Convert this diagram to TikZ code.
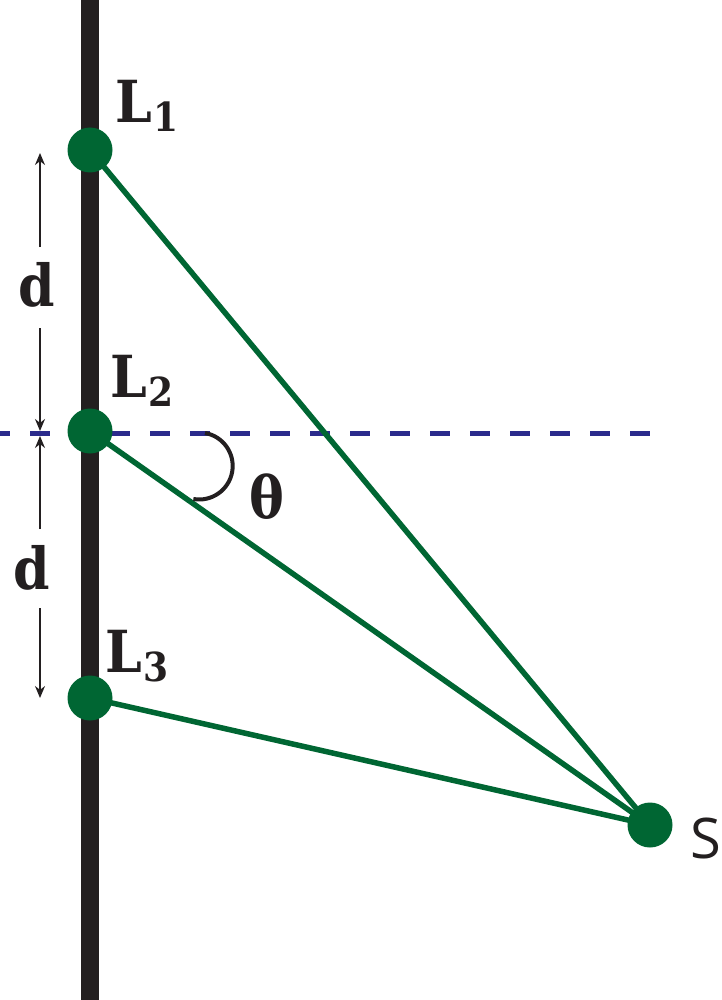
\documentclass[tikz,border=0pt]{standalone}
\usepackage{fontspec}
\setmainfont{DejaVu Serif Condensed}
\newfontfamily\sfont{Open Sans}
\usetikzlibrary{arrows.meta}
\definecolor{dkgreen}{RGB}{0,102,51}
\definecolor{navyblue}{RGB}{43,43,140}
\definecolor{barblack}{RGB}{35,31,32}
\newcommand{\Lab}[1]{L\kern2pt\raisebox{-9pt}{\fontsize{40}{40}\selectfont #1}}
\begin{document}
\begin{tikzpicture}[x=1pt,y=-1pt,
  dot/.style={circle,fill=dkgreen,inner sep=0pt,minimum size=45pt},
  ray/.style={dkgreen,line width=5.5pt},
  lab/.style={font=\bfseries\fontsize{58}{58}\selectfont,text=barblack,inner sep=0pt},
  dim/.style={line width=1.3pt,barblack,-{Stealth[length=12pt,width=10pt]}}]
\useasboundingbox (0,0) rectangle (721,1000);
\coordinate (bartop) at (90,0);
\coordinate (barbot) at (90,1000);
\coordinate (dashA) at (0,433);
\coordinate (dashB) at (650,433);
% dashed reference line
\draw[navyblue,line width=5pt,dash pattern=on 20pt off 20pt,dash phase=10pt] (dashA) -- (dashB);
% bar
\draw[barblack,line width=18pt] (bartop) -- (barbot);
% points
\coordinate (pL1) at (90,150);
\coordinate (pL2) at (90,431);
\coordinate (pL3) at (90,698);
\coordinate (pS) at (650,825);
\draw[ray] (pL1) -- (pS);
\draw[ray] (pL2) -- (pS);
\draw[ray] (pL3) -- (pS);
\node[dot] (L1) at (pL1) {};
\node[dot] (L2) at (pL2) {};
\node[dot] (L3) at (pL3) {};
\node[dot] (S) at (pS) {};
% angle arc
\coordinate (arcstart) at (205,433);
\draw[barblack,line width=4pt] (arcstart) arc[start angle=80,end angle=-100,radius=33.5pt];
% dimension arrows
\coordinate (d1a) at (40,247);
\coordinate (d1b) at (40,153);
\coordinate (d1c) at (40,328);
\coordinate (d1d) at (40,431);
\coordinate (d2a) at (40,529);
\coordinate (d2b) at (40,436);
\coordinate (d2c) at (40,608);
\coordinate (d2d) at (40,698);
\draw[dim] (d1a) -- (d1b);
\draw[dim] (d1c) -- (d1d);
\draw[dim] (d2a) -- (d2b);
\draw[dim] (d2c) -- (d2d);
% labels
\node[lab] (tL1) at (147,106) {\Lab{1}};
\node[lab] (tL2) at (142,381) {\Lab{2}};
\node[lab] (tL3) at (137,656) {\Lab{3}};
\node[lab] (td1) at (37,285) {d};
\node[lab] (td2) at (32,568) {d};
\node[lab] (tth) at (267,497) {θ};
\node[font=\sfont\fontsize{56}{56}\selectfont,text=barblack,inner sep=0pt] (tS) at (706,838) {S};
\end{tikzpicture}
\end{document}
